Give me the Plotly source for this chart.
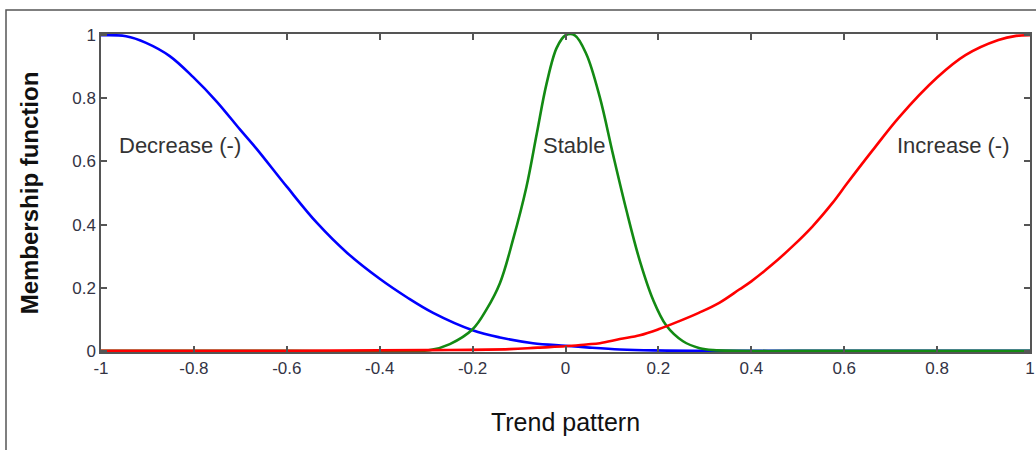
import plotly.graph_objects as go

# ---- data ----
decrease_x = [-1.0, -0.946, -0.903, -0.852, -0.802, -0.751, -0.70, -0.665, -0.60, -0.535,
              -0.47, -0.40, -0.34, -0.285, -0.20, -0.141, -0.07, 0.0, 0.052, 0.117, 0.189,
              0.30, 0.50, 0.80, 1.0]
decrease_y = [1.0, 0.997, 0.976, 0.934, 0.868, 0.79, 0.70, 0.64, 0.52, 0.405,
              0.31, 0.228, 0.168, 0.12, 0.065, 0.042, 0.024, 0.016, 0.01, 0.004, 0.001,
              0.0, 0.0, 0.0, 0.0]

stable_x = [-1.0, -0.60, -0.292, -0.249, -0.20, -0.17, -0.141, -0.113, -0.084, -0.062,
            -0.041, -0.019, 0.0, 0.02, 0.045, 0.074, 0.102, 0.131, 0.16, 0.189, 0.217,
            0.253, 0.289, 0.318, 0.60, 1.0]
stable_y = [0.0, 0.0, 0.002, 0.021, 0.068, 0.131, 0.215, 0.352, 0.52, 0.687,
            0.845, 0.96, 1.0, 1.0, 0.94, 0.803, 0.624, 0.446, 0.285, 0.16, 0.08,
            0.03, 0.008, 0.002, 0.0, 0.0]

increase_x = [-1.0, -0.60, -0.30, -0.12, -0.06, 0.0, 0.045, 0.074, 0.117, 0.16, 0.20,
              0.245, 0.288, 0.331, 0.374, 0.40, 0.445, 0.488, 0.531, 0.574, 0.606,
              0.661, 0.718, 0.80, 0.861, 0.932, 0.97, 1.0]
increase_y = [0.0, 0.0, 0.002, 0.005, 0.01, 0.014, 0.02, 0.024, 0.037, 0.049, 0.068,
              0.094, 0.121, 0.152, 0.194, 0.22, 0.273, 0.33, 0.393, 0.467, 0.53,
              0.635, 0.74, 0.866, 0.937, 0.985, 0.998, 1.0]

x_ticks = [-1, -0.8, -0.6, -0.4, -0.2, 0, 0.2, 0.4, 0.6, 0.8, 1]
x_tick_text = ["-1", "-0.8", "-0.6", "-0.4", "-0.2", "0", "0.2", "0.4", "0.6", "0.8", "1"]
y_ticks = [0, 0.2, 0.4, 0.6, 0.8, 1]
y_tick_text = ["0", "0.2", "0.4", "0.6", "0.8", "1"]

labels = ["Decrease (-)", "Stable", "Increase (-)"]
label_x = [-0.83, 0.018, 0.835]
label_y = [0.65, 0.65, 0.65]

FONT = "Liberation Sans, Arial, sans-serif"

fig = go.Figure()
for xs, ys, col, name in [
    (decrease_x, decrease_y, "#0000ff", "Decrease"),
    (stable_x, stable_y, "#138a13", "Stable"),
    (increase_x, increase_y, "#ff0000", "Increase"),
]:
    fig.add_trace(go.Scatter(x=xs, y=ys, mode="lines", name=name,
                             line=dict(color=col, width=2.6, shape="spline", smoothing=1.0),
                             showlegend=False, hoverinfo="skip"))

for t, xx, yy in zip(labels, label_x, label_y):
    fig.add_annotation(x=xx, y=yy, text=t, showarrow=False,
                       font=dict(family=FONT, size=22, color="#333333"),
                       xanchor="center", yanchor="middle")

axis_common = dict(showline=True, linecolor="#555555", linewidth=1.5, mirror="ticks",
                   ticks="inside", ticklen=6, tickwidth=1.5, tickcolor="#555555",
                   showgrid=False, zeroline=False,
                   tickfont=dict(family=FONT, size=17, color="#333344"))

fig.update_xaxes(range=[-1, 1], tickvals=x_ticks, ticktext=x_tick_text,
                 title=dict(text="Trend pattern", standoff=36,
                            font=dict(family=FONT, size=25, color="#111111")),
                 **axis_common)
fig.update_yaxes(range=[-0.004, 1.004], tickvals=y_ticks, ticktext=y_tick_text,
                 title=dict(text="<b>Membership function</b>", standoff=27,
                            font=dict(family=FONT, size=24, color="#111111")),
                 **axis_common)

L, R, T, B = 101, 6, 34, 98
W, H = 1036, 450
pw, ph = W - L - R, H - T - B
fig.add_shape(type="rect", xref="paper", yref="paper",
              x0=(6 - L) / pw, x1=(W + 10 - L) / pw,
              y0=-(H + 10 - (H - B)) / ph, y1=1 + (T - 10) / ph,
              line=dict(color="#555555", width=1.5), fillcolor="rgba(0,0,0,0)", layer="below")

fig.update_layout(width=W, height=H, margin=dict(l=L, r=R, t=T, b=B, autoexpand=False),
                  plot_bgcolor="white", paper_bgcolor="white", hovermode=False)

fig.write_html("out.html", config={"displayModeBar": False},
               post_script="document.body.style.margin='0';document.body.style.overflow='hidden';")
